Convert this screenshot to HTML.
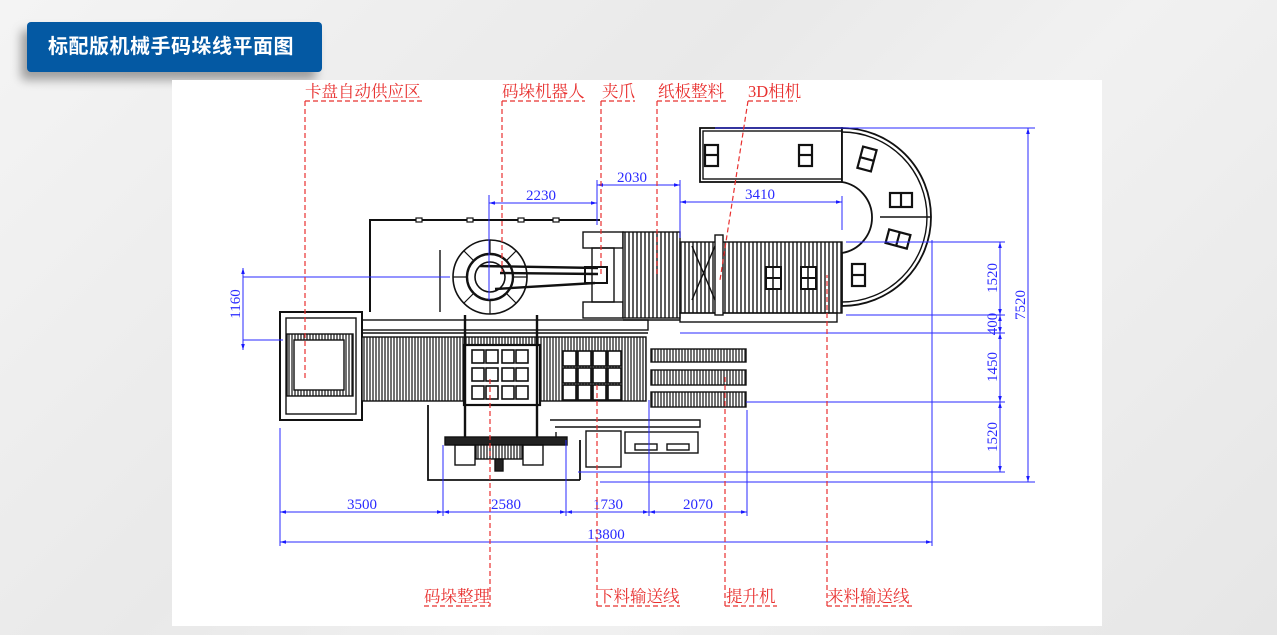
<!DOCTYPE html>
<html><head><meta charset="utf-8">
<style>
html,body{margin:0;padding:0;}
body{width:1277px;height:635px;position:relative;overflow:hidden;background:linear-gradient(135deg,#f4f4f4 0%,#e9e9e9 40%,#f1f1f1 60%,#e6e6e6 100%);font-family:"Liberation Sans","Noto Sans CJK SC",sans-serif;}
.hdr{position:absolute;left:27px;top:22px;width:295px;height:50px;background:#0459a3;border-radius:4px;box-shadow:-6px 8px 10px rgba(0,0,0,0.35);color:#fff;font-weight:bold;font-size:20px;line-height:50px;text-indent:21px;letter-spacing:0.5px;}
.sheet{position:absolute;left:172px;top:80px;width:930px;height:546px;background:#fff;}
svg{position:absolute;left:0;top:0;}
</style></head><body>
<div class="hdr">标配版机械手码垛线平面图</div>
<div class="sheet"></div>
<svg width="1277" height="635" viewBox="0 0 1277 635">
<defs>
<pattern id="rv" width="3" height="10" patternUnits="userSpaceOnUse"><rect width="3" height="10" fill="#fff"/><line x1="1" y1="0" x2="1" y2="10" stroke="#222" stroke-width="1.3"/></pattern>
<pattern id="rv2" width="4" height="10" patternUnits="userSpaceOnUse"><rect width="4" height="10" fill="#fff"/><line x1="1" y1="0" x2="1" y2="10" stroke="#333" stroke-width="1.6"/></pattern>
<marker id="a" viewBox="0 0 10 10" refX="10" refY="5" markerWidth="6" markerHeight="6" orient="auto-start-reverse"><path d="M0,2 L10,5 L0,8z" fill="#1a1aff"/></marker>
</defs>
<g fill="none" stroke="#111" stroke-width="1.4">
<!-- left pallet station -->
<rect x="280" y="312" width="82" height="108" stroke-width="2"/>
<rect x="286" y="318" width="70" height="96"/>
<rect x="287" y="334" width="66" height="62" fill="url(#rv)"/>
<rect x="294" y="340" width="50" height="50" fill="#fff"/>
<!-- main conveyor -->
<rect x="362" y="320" width="286" height="10"/>
<rect x="362" y="337" width="284" height="64" fill="url(#rv)"/>
<line x1="362" y1="333" x2="648" y2="333"/>
<!-- stack cells -->
<rect x="464" y="345" width="76" height="60" fill="#fff" stroke-width="2.2"/>
<g stroke-width="1.6" fill="#fff">
<rect x="472" y="350" width="12" height="13"/><rect x="486" y="350" width="12" height="13"/><rect x="502" y="350" width="12" height="13"/><rect x="516" y="350" width="12" height="13"/>
<rect x="472" y="368" width="12" height="13"/><rect x="486" y="368" width="12" height="13"/><rect x="502" y="368" width="12" height="13"/><rect x="516" y="368" width="12" height="13"/>
<rect x="472" y="386" width="12" height="13"/><rect x="486" y="386" width="12" height="13"/><rect x="502" y="386" width="12" height="13"/><rect x="516" y="386" width="12" height="13"/>
<rect x="563" y="351" width="13" height="15"/><rect x="578" y="351" width="13" height="15"/><rect x="593" y="351" width="13" height="15"/><rect x="608" y="351" width="13" height="15"/>
<rect x="563" y="368" width="13" height="15"/><rect x="578" y="368" width="13" height="15"/><rect x="593" y="368" width="13" height="15"/><rect x="608" y="368" width="13" height="15"/>
<rect x="563" y="385" width="13" height="15"/><rect x="578" y="385" width="13" height="15"/><rect x="593" y="385" width="13" height="15"/><rect x="608" y="385" width="13" height="15"/>
</g>
<line x1="465" y1="315" x2="465" y2="440" stroke-width="2.4"/><line x1="537" y1="315" x2="537" y2="440" stroke-width="2.4"/>
<!-- robot fence -->
<polyline points="370,312 370,220 600,220" stroke-width="2"/>
<g fill="#fff" stroke-width="1.2"><rect x="416" y="218" width="6" height="4"/><rect x="467" y="218" width="6" height="4"/><rect x="518" y="218" width="6" height="4"/><rect x="553" y="218" width="6" height="4"/></g>
<line x1="440" y1="250" x2="440" y2="312"/>
<!-- robot -->
<circle cx="490" cy="277" r="37" stroke-width="1.6"/>
<circle cx="490" cy="277" r="23" stroke-width="2.4"/>
<circle cx="490" cy="277" r="15" stroke-width="1.6"/>
<path d="M490,240 L490,254 M490,300 L490,314 M453,277 L467,277 M513,277 L527,277 M464,251 L474,261 M506,293 L516,303 M464,303 L474,293 M506,261 L516,251" stroke-width="1.2"/>
<path d="M480,266 L598,268 M495,289 L595,283 M500,273 L598,274" stroke-width="2.4"/>
<rect x="585" y="267" width="22" height="16" stroke-width="2"/>
<!-- gripper -->
<rect x="583" y="232" width="40" height="16"/>
<rect x="583" y="302" width="40" height="16"/>
<rect x="592" y="248" width="22" height="54"/>
<!-- paperboard stack -->
<rect x="623" y="232" width="57" height="86" fill="url(#rv2)"/>
<line x1="623" y1="320" x2="680" y2="320"/>
<!-- incoming conveyor -->
<rect x="680" y="242" width="162" height="71" fill="url(#rv2)"/>
<rect x="680" y="313" width="157" height="9"/>
<rect x="715" y="235" width="8" height="80" fill="#fff"/>
<path d="M692,246 L715,300 M715,246 L692,300"/>
<rect x="766" y="267" width="15" height="22" fill="#fff" stroke-width="2"/><line x1="766" y1="278" x2="781" y2="278" stroke-width="2"/><line x1="773" y1="267" x2="773" y2="289" stroke-width="1.5"/>
<rect x="801" y="267" width="15" height="22" fill="#fff" stroke-width="2"/><line x1="801" y1="278" x2="816" y2="278" stroke-width="2"/><line x1="808" y1="267" x2="808" y2="289" stroke-width="1.5"/>
<!-- U loop -->
<rect x="700" y="128" width="142" height="54" stroke-width="1.8"/>
<rect x="703" y="131" width="139" height="48"/>
<path d="M842,128 A89,89 0 0 1 842,306 L842,253 A36,36 0 0 0 842,182 Z" fill="#fff" stroke-width="1.8"/>
<path d="M842,132 A85,85 0 0 1 842,302" />
<line x1="880" y1="217" x2="931" y2="217"/>
<g stroke-width="2.2">
<rect x="705" y="145" width="13" height="21"/><line x1="705" y1="155" x2="718" y2="155"/>
<rect x="799" y="145" width="13" height="21"/><line x1="799" y1="155" x2="812" y2="155"/>
<rect x="860" y="148" width="14" height="22" transform="rotate(15 867 159)"/><line x1="860" y1="159" x2="874" y2="159" transform="rotate(15 867 159)"/>
<rect x="890" y="193" width="22" height="14"/><line x1="901" y1="193" x2="901" y2="207"/>
<rect x="887" y="232" width="22" height="14" transform="rotate(15 898 239)"/><line x1="898" y1="232" x2="898" y2="246" transform="rotate(15 898 239)"/>
<rect x="852" y="264" width="13" height="22"/><line x1="852" y1="275" x2="865" y2="275"/>
</g>
<!-- lift conveyors -->
<rect x="651" y="349" width="95" height="13" fill="url(#rv)"/>
<rect x="651" y="370" width="95" height="15" fill="url(#rv)"/>
<rect x="651" y="392" width="95" height="15" fill="url(#rv)"/>
<!-- lower frame -->
<path d="M550,420 L700,420 L700,427 L555,427 M556,432 L556,445"/>
<rect x="586" y="431" width="35" height="36"/>
<rect x="625" y="432" width="73" height="21"/>
<rect x="635" y="444" width="22" height="6"/><rect x="667" y="444" width="22" height="6"/>
<!-- cart -->
<rect x="445" y="437" width="122" height="8" fill="#222"/>
<rect x="455" y="445" width="20" height="20"/><rect x="523" y="445" width="20" height="20"/>
<rect x="476" y="445" width="46" height="14" fill="url(#rv)"/>
<rect x="495" y="459" width="8" height="12" fill="#222"/>
<path d="M428,405 L428,480 L580,480 M580,440 L580,480" stroke-width="1.8"/>
</g>
<!-- blue dimensions -->
<g stroke="#2a2aff" stroke-width="1" fill="none">
<line x1="243" y1="277" x2="450" y2="277"/><line x1="243" y1="340" x2="283" y2="340"/>
<line x1="243" y1="268" x2="243" y2="350" marker-start="url(#a)" marker-end="url(#a)"/>
<line x1="489" y1="203" x2="597" y2="203" marker-start="url(#a)" marker-end="url(#a)"/>
<line x1="489" y1="195" x2="489" y2="300"/><line x1="597" y1="180" x2="597" y2="225"/>
<line x1="597" y1="185" x2="680" y2="185" marker-start="url(#a)" marker-end="url(#a)"/>
<line x1="680" y1="180" x2="680" y2="238"/>
<line x1="680" y1="202" x2="842" y2="202" marker-start="url(#a)" marker-end="url(#a)"/>
<line x1="842" y1="196" x2="842" y2="230"/>
<line x1="715" y1="128" x2="1035" y2="128"/>
<line x1="1028" y1="128" x2="1028" y2="482" marker-start="url(#a)" marker-end="url(#a)"/>
<line x1="846" y1="242" x2="1005" y2="242"/><line x1="846" y1="315" x2="1005" y2="315"/>
<line x1="680" y1="333" x2="1005" y2="333"/><line x1="746" y1="402" x2="1005" y2="402"/>
<line x1="578" y1="472" x2="1005" y2="472"/><line x1="600" y1="482" x2="1035" y2="482"/>
<line x1="1000" y1="242" x2="1000" y2="315" marker-start="url(#a)" marker-end="url(#a)"/>
<line x1="1000" y1="315" x2="1000" y2="333" marker-start="url(#a)" marker-end="url(#a)"/>
<line x1="1000" y1="333" x2="1000" y2="402" marker-start="url(#a)" marker-end="url(#a)"/>
<line x1="1000" y1="402" x2="1000" y2="472" marker-start="url(#a)" marker-end="url(#a)"/>
<line x1="932" y1="240" x2="932" y2="546"/>
<line x1="280" y1="428" x2="280" y2="546"/><line x1="443" y1="445" x2="443" y2="516"/>
<line x1="566" y1="440" x2="566" y2="516"/><line x1="649" y1="400" x2="649" y2="516"/>
<line x1="747" y1="410" x2="747" y2="516"/>
<line x1="280" y1="512" x2="443" y2="512" marker-start="url(#a)" marker-end="url(#a)"/>
<line x1="443" y1="512" x2="566" y2="512" marker-start="url(#a)" marker-end="url(#a)"/>
<line x1="566" y1="512" x2="649" y2="512" marker-start="url(#a)" marker-end="url(#a)"/>
<line x1="649" y1="512" x2="747" y2="512" marker-start="url(#a)" marker-end="url(#a)"/>
<line x1="280" y1="542" x2="932" y2="542" marker-start="url(#a)" marker-end="url(#a)"/>
</g>
<g fill="#2a2aff" font-family="Liberation Serif, serif" font-size="15">
<text x="541" y="200" text-anchor="middle">2230</text>
<text x="632" y="182" text-anchor="middle">2030</text>
<text x="760" y="199" text-anchor="middle">3410</text>
<text x="362" y="509" text-anchor="middle">3500</text>
<text x="506" y="509" text-anchor="middle">2580</text>
<text x="608" y="509" text-anchor="middle">1730</text>
<text x="698" y="509" text-anchor="middle">2070</text>
<text x="606" y="539" text-anchor="middle">13800</text>
<text transform="translate(240,304) rotate(-90)" text-anchor="middle">1160</text>
<text transform="translate(997,278) rotate(-90)" text-anchor="middle">1520</text>
<text transform="translate(997,324) rotate(-90)" text-anchor="middle">400</text>
<text transform="translate(997,367) rotate(-90)" text-anchor="middle">1450</text>
<text transform="translate(997,437) rotate(-90)" text-anchor="middle">1520</text>
<text transform="translate(1025,305) rotate(-90)" text-anchor="middle">7520</text>
</g>
<!-- red leaders -->
<g stroke="#e8302f" stroke-width="1.2" stroke-dasharray="5,3" fill="none">
<path d="M305,101 L423,101 M305,101 L305,380"/>
<path d="M502,101 L585,101 M502,101 L502,272"/>
<path d="M601,101 L635,101 M601,101 L601,277"/>
<path d="M657,101 L726,101 M657,101 L657,276"/>
<path d="M748,101 L797,101 M748,101 L720,280"/>
<path d="M424,606 L490,606 L490,378"/>
<path d="M597,606 L680,606 M597,606 L597,385"/>
<path d="M725,606 L777,606 M725,606 L725,375"/>
<path d="M827,606 L912,606 M827,606 L827,275"/>
</g>
<g fill="#e8302f" font-family="Liberation Serif, Noto Serif CJK SC, serif" font-size="16.5">
<text x="305" y="97">卡盘自动供应区</text>
<text x="502" y="97">码垛机器人</text>
<text x="602" y="97">夹爪</text>
<text x="658" y="97">纸板整料</text>
<text x="748" y="97">3D相机</text>
<text x="424" y="602">码垛整理</text>
<text x="597" y="602">下料输送线</text>
<text x="726" y="602">提升机</text>
<text x="827" y="602">来料输送线</text>
</g>
</svg>
</body></html>
